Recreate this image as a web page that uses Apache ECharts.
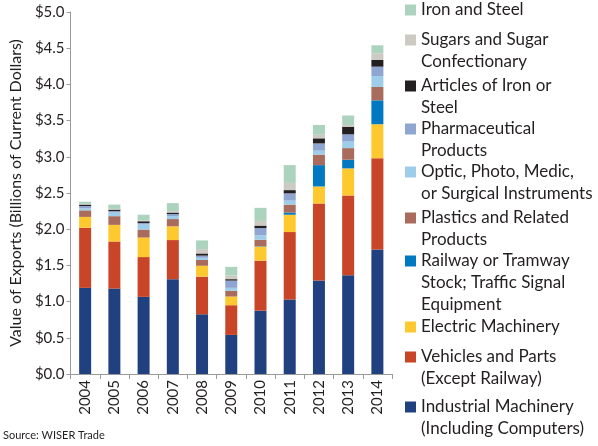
<!DOCTYPE html>
<html><head><meta charset="utf-8">
<script src="https://cdn.jsdelivr.net/npm/echarts@6/dist/echarts.min.js"></script>
<style>html,body{margin:0;padding:0;background:#fff}#c{width:598px;height:446px}</style>
</head><body><div id="c"></div>
<script>
var years = ['2004','2005','2006','2007','2008','2009','2010','2011','2012','2013','2014'];
var industrial = [1.19,1.18,1.065,1.31,0.825,0.54,0.875,1.03,1.29,1.365,1.72];
var vehicles   = [0.83,0.65,0.55,0.54,0.52,0.41,0.69,0.93,1.065,1.10,1.26];
var electric   = [0.15,0.23,0.27,0.19,0.15,0.12,0.195,0.24,0.235,0.375,0.47];
var railway    = [0,0,0,0,0,0,0.005,0.03,0.295,0.12,0.33];
var plastics   = [0.09,0.12,0.11,0.10,0.08,0.08,0.09,0.11,0.145,0.16,0.185];
var optic      = [0.03,0.05,0.07,0.04,0.03,0.04,0.06,0.055,0.055,0.09,0.15];
var pharma     = [0.03,0.02,0.02,0.03,0.03,0.10,0.10,0.10,0.10,0.10,0.13];
var articles   = [0.02,0.02,0.025,0.02,0.03,0.02,0.035,0.045,0.07,0.105,0.095];
var sugars     = [0.01,0.01,0.01,0.02,0.06,0.05,0.065,0.10,0.05,0.025,0.09];
var ironSteel  = [0.03,0.06,0.08,0.11,0.12,0.12,0.18,0.245,0.135,0.13,0.11];
var yTicks = ['$0.0','$0.5','$1.0','$1.5','$2.0','$2.5','$3.0','$3.5','$4.0','$4.5','$5.0'];

var seriesDefs = [
  {name:'Industrial Machinery\n(Including Computers)', data:industrial, color:'#21407f'},
  {name:'Vehicles and Parts\n(Except Railway)', data:vehicles, color:'#c94527'},
  {name:'Electric Machinery', data:electric, color:'#fec82f'},
  {name:'Railway or Tramway\nStock; Traffic Signal\nEquipment', data:railway, color:'#0079c0'},
  {name:'Plastics and Related\nProducts', data:plastics, color:'#a86b5c'},
  {name:'Optic, Photo, Medic,\nor Surgical Instruments', data:optic, color:'#9dcde8'},
  {name:'Pharmaceutical\nProducts', data:pharma, color:'#8fa6d2'},
  {name:'Articles of Iron or\nSteel', data:articles, color:'#231f20'},
  {name:'Sugars and Sugar\nConfectionary', data:sugars, color:'#cdc9c3'},
  {name:'Iron and Steel', data:ironSteel, color:'#abd3bd'}
];
// legend icon centre y positions
var legendY = [407,357,327,261,218,172,129,86,40,10];
var LH = 22;
var FONT = 'Lato';
var LFS = 17;

var legends = seriesDefs.map(function(s,i){
  return {
    data:[s.name], orient:'vertical', left:405, top: legendY[i]-LH/2,
    padding:0, itemWidth:11, itemHeight:11, itemGap:0, icon:'rect',
    selectedMode:false,
    formatter:function(name){ return name.split('\n')[0]; },
    textStyle:{fontFamily:FONT, fontSize:LFS, color:'#231f20', lineHeight:LH, height:LH}
  };
});

var graphics = [{type:'text', left:3, top:430,
    style:{text:'Source: WISER Trade', fontFamily:FONT, fontSize:11, fill:'#231f20'}}];
seriesDefs.forEach(function(s,i){
  var lines = s.name.split('\n');
  for (var k=1;k<lines.length;k++){
    graphics.push({type:'text', x:421, y:legendY[i]+k*LH,
      style:{text:lines[k], fontFamily:FONT, fontSize:LFS, fill:'#231f20', verticalAlign:'middle', align:'left'}});
  }
});

var option = {
  animation:false,
  textStyle:{fontFamily:FONT},
  grid:{left:65, right:206, top:12, bottom:72, containLabel:false},
  legend: legends,
  xAxis:{type:'category', data:years,
    axisLine:{lineStyle:{color:'#9a9a9a'}},
    axisTick:{show:true, length:5, lineStyle:{color:'#9a9a9a'}},
    axisLabel:{rotate:90, fontFamily:FONT, fontSize:15, color:'#231f20', margin:6}},
  yAxis:{type:'value', min:0, max:5, interval:0.5,
    name:'Value of Exports (Billions of Current Dollars)', nameLocation:'middle', nameGap:46,
    nameTextStyle:{fontFamily:FONT, fontSize:16, color:'#231f20'},
    axisLine:{show:true, lineStyle:{color:'#9a9a9a'}},
    axisTick:{show:true, length:4, lineStyle:{color:'#9a9a9a'}},
    splitLine:{show:false},
    axisLabel:{fontFamily:FONT, fontSize:15, color:'#231f20', margin:6,
      formatter:function(v){ return yTicks[Math.round(v/0.5)]; }}},
  series: seriesDefs.map(function(s){
    return {name:s.name, type:'bar', stack:'all', data:s.data, barWidth:12,
      itemStyle:{color:s.color}};
  }),
  graphic: graphics
};
var chart = echarts.init(document.getElementById('c'), null, {renderer:'canvas'});
chart.setOption(option);
</script></body></html>
